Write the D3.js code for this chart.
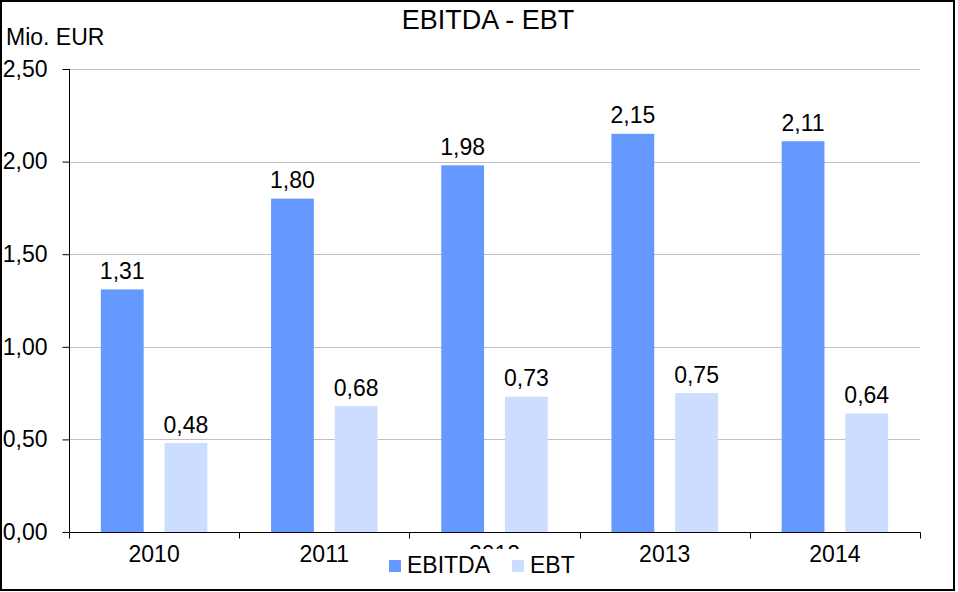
<!DOCTYPE html>
<html><head><meta charset="utf-8">
<script src="https://cdn.jsdelivr.net/npm/d3@7"></script>
<style>body{margin:0;background:#fff}svg{display:block}text{font-family:"Liberation Sans",Arial,sans-serif;fill:#000}</style>
</head><body><svg id="c" width="958" height="592"></svg>
<script>
const categories = ["2010","2011","2012","2013","2014"];
const seriesNames = ["EBITDA","EBT"];
const ebitda = [1.31,1.80,1.98,2.15,2.11];
const ebt = [0.48,0.68,0.73,0.75,0.64];
const yTicks = [0,0.5,1,1.5,2,2.5];
const colors = ["#6699FF","#CCDDFF"];
const title = "EBITDA - EBT";
const unitLabel = "Mio. EUR";

(function(){
const svg = d3.select("#c");
const loc = d3.formatLocale({decimal:",",thousands:".",grouping:[3],currency:["","€"]});
const fmt = loc.format(".2f");
const pL = 69, pR = 920, pT = 69, pB = 532;
const fs = 23;

const x = d3.scaleBand().domain(categories).range([pL,pR]).paddingInner(0).paddingOuter(0);
const xs = d3.scaleBand().domain(seriesNames).range([0,x.bandwidth()]).paddingInner(0.328).paddingOuter(0.5);
const y = d3.scaleLinear().domain([0,2.5]).range([pB,pT]);

svg.append("rect").attr("x",0).attr("y",0).attr("width",958).attr("height",592).attr("fill","#fff");

// gridlines
svg.append("g").selectAll("line").data(yTicks.filter(d=>d>0)).join("line")
  .attr("x1",pL).attr("x2",pR).attr("y1",d=>Math.round(y(d))+0.5).attr("y2",d=>Math.round(y(d))+0.5)
  .attr("stroke","#c0c0c0").attr("stroke-width",1);

// bars
const data = categories.map((c,i)=>({c, vals:[{s:"EBITDA",v:ebitda[i]},{s:"EBT",v:ebt[i]}]}));
const g = svg.append("g").selectAll("g").data(data).join("g").attr("transform",d=>`translate(${x(d.c)},0)`);
g.selectAll("rect").data(d=>d.vals).join("rect")
  .attr("x",d=>xs(d.s)).attr("width",xs.bandwidth())
  .attr("y",d=>y(d.v)).attr("height",d=>pB-y(d.v))
  .attr("fill",(d,i)=>colors[i]);
g.selectAll("text").data(d=>d.vals).join("text")
  .attr("x",d=>xs(d.s)+xs.bandwidth()/2).attr("y",d=>y(d.v)-10.5)
  .attr("text-anchor","middle").attr("font-size",fs).text(d=>fmt(d.v));

// y axis
const ya = d3.axisLeft(y).tickValues(yTicks).tickFormat(fmt).tickSize(7).tickPadding(15);
const yg = svg.append("g").attr("transform",`translate(${pL+0.5},0)`).call(ya);
yg.selectAll("text").attr("font-size",fs).attr("font-family",null);
yg.selectAll("path,line").attr("stroke","#000");
yg.select(".domain").attr("d",`M0,${pT}V${pB}`);

// x axis
const xa = d3.axisBottom(x).tickSize(0).tickPadding(13);
const xg = svg.append("g").attr("transform",`translate(0,${pB+0.5})`).call(xa);
xg.select(".domain").attr("d",`M${pL+0.5},6V0H${pR+0.5}V6`).attr("stroke","#000");
xg.selectAll("text").attr("font-size",fs).attr("font-family",null).attr("dy","0.71em");
xg.append("g").selectAll("line").data(categories.slice(1)).join("line")
  .attr("x1",d=>Math.round(x(d))+0.5).attr("x2",d=>Math.round(x(d))+0.5).attr("y1",0).attr("y2",6).attr("stroke","#000");

// title & unit
svg.append("text").attr("x",488).attr("y",29).attr("text-anchor","middle").attr("font-size",27).text(title);
svg.append("text").attr("x",6).attr("y",45).attr("font-size",fs).text(unitLabel);

// legend
const lg = svg.append("g");
lg.append("rect").attr("x",356).attr("y",549).attr("width",270).attr("height",34).attr("fill","#fff");
const li = lg.selectAll("g").data(seriesNames).join("g").attr("transform",(d,i)=>`translate(${i?512:389},0)`);
li.append("rect").attr("x",0).attr("y",560).attr("width",12).attr("height",12).attr("fill",(d,i)=>colors[i]);
li.append("text").attr("x",18).attr("y",573).attr("font-size",fs).text(d=>d);

// border
svg.append("rect").attr("x",1).attr("y",1).attr("width",953).attr("height",589).attr("fill","none").attr("stroke","#000").attr("stroke-width",2);
})();
</script></body></html>
